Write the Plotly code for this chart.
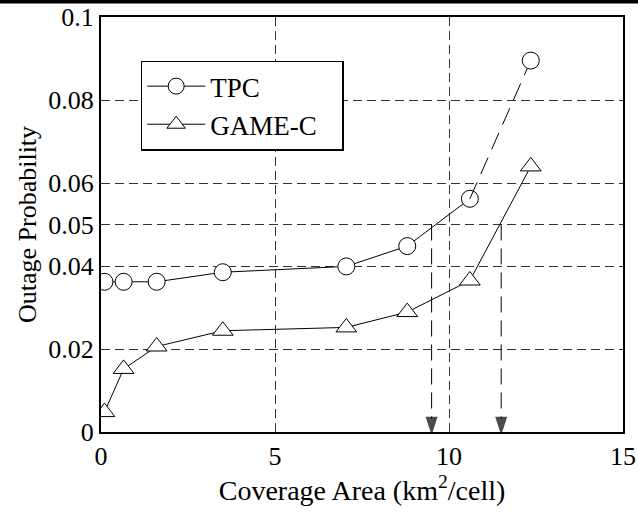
import plotly.graph_objects as go

# ---- data ----
tpc_x = [0.1, 0.65, 1.6, 3.5, 7.05, 8.8, 10.6, 12.35]
tpc_y = [0.0362, 0.0362, 0.0362, 0.0385, 0.0399, 0.0448, 0.0562, 0.0895]
game_x = [0.1, 0.65, 1.6, 3.5, 7.05, 8.8, 10.6, 12.35]
game_y = [0.0048, 0.0152, 0.0206, 0.0244, 0.0252, 0.0289, 0.0365, 0.064]
arrow_x = [9.5, 11.5]
arrow_top = 0.05

x_ticks = [0, 5, 10, 15]
y_ticks = [0, 0.02, 0.04, 0.05, 0.06, 0.08, 0.1]
y_tick_text = ["0", "0.02", "0.04", "0.05", "0.06", "0.08", "0.1"]

FONT = "'Liberation Serif', 'Times New Roman', serif"

fig = go.Figure()

# TPC: solid part plus the long-dashed last segment
fig.add_trace(go.Scatter(
    x=tpc_x[:-1], y=tpc_y[:-1], mode="lines+markers", name="TPC",
    line=dict(color="black", width=1),
    marker=dict(symbol="circle", size=17, color="white",
                line=dict(color="black", width=1)),
))
fig.add_trace(go.Scatter(
    x=tpc_x[-2:], y=tpc_y[-2:], mode="lines", showlegend=False,
    line=dict(color="black", width=1, dash="18px,9px"),
))
fig.add_trace(go.Scatter(
    x=tpc_x[-1:], y=tpc_y[-1:], mode="markers", showlegend=False,
    marker=dict(symbol="circle", size=17, color="white",
                line=dict(color="black", width=1)),
))
fig.add_trace(go.Scatter(
    x=game_x, y=game_y, mode="lines+markers",
    name="GAME-C\u00a0\u00a0\u00a0",
    line=dict(color="black", width=1),
    marker=dict(symbol="triangle-up", size=18, color="white",
                line=dict(color="black", width=1)),
))

# dashed arrows pointing down to the x axis
for ax_ in arrow_x:
    fig.add_trace(go.Scatter(
        x=[ax_, ax_], y=[arrow_top, 0], mode="lines+markers",
        showlegend=False, cliponaxis=False, hoverinfo="skip",
        line=dict(color="black", width=1, dash="16px,8px"),
        marker=dict(symbol="arrow", angleref="previous", size=[0, 15],
                    color="black", line=dict(width=2, color="black")),
    ))

# black bar at top edge of image
fig.add_shape(type="rect", xref="paper", yref="paper",
              x0=-101/522, x1=1+15/522, y0=1+13.5/415, y1=1+17/415,
              fillcolor="black", line=dict(width=0), layer="above")

axis_common = dict(
    showline=True, linecolor="black", linewidth=2, mirror=True,
    showgrid=True, gridcolor="#333333", gridwidth=1, griddash="9px,5px",
    zeroline=False, ticks="", automargin=False,
    tickfont=dict(family=FONT, size=26, color="black"),
)

fig.update_xaxes(range=[0, 15], tickvals=x_ticks,
                 title=dict(text="Coverage Area (km<sup>2</sup>/cell)",
                            font=dict(family=FONT, size=28, color="black"),
                            standoff=6),
                 **axis_common)
fig.update_yaxes(range=[0, 0.1], tickvals=y_ticks, ticktext=y_tick_text,
                 title=dict(text="Outage Probability",
                            font=dict(family=FONT, size=26, color="black"),
                            standoff=4),
                 **axis_common)

fig.update_layout(
    width=638, height=516,
    margin=dict(l=101, r=15, t=17, b=84),
    plot_bgcolor="white", paper_bgcolor="white",
    font=dict(family=FONT, size=26, color="black"),
    showlegend=True,
    legend=dict(x=0.076, y=0.895, xanchor="left", yanchor="top",
                bgcolor="white", bordercolor="black", borderwidth=1.5,
                font=dict(family=FONT, size=27, color="black"),
                tracegroupgap=0, itemwidth=58),
)

fig.write_html("out.html",
               config={"displayModeBar": False},
               post_script="document.body.style.margin='0';")
